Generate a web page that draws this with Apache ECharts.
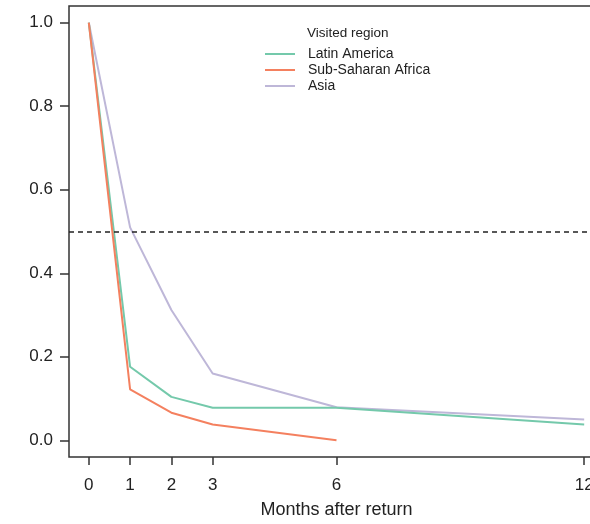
<!DOCTYPE html>
<html>
<head>
<meta charset="utf-8">
<script src="https://cdn.jsdelivr.net/npm/echarts@6/dist/echarts.min.js"></script>
<style>
html,body{margin:0;padding:0;background:#fff;overflow:hidden;}
#chart{width:620px;height:524px;}
</style>
</head>
<body>
<div id="chart"></div>
<script>
const months = [0, 1, 2, 3, 6, 12];
const xTicks = [0, 1, 2, 3, 6, 12];
const yTicks = [0, 0.2, 0.4, 0.6, 0.8, 1.0];
const latinAmerica = [1.0, 0.176, 0.104, 0.078, 0.078, 0.038];
const subSaharanAfrica = [1.0, 0.122, 0.066, 0.038, 0.0];
const asia = [1.0, 0.51, 0.312, 0.16, 0.079, 0.050];
const seriesNames = ['Latin America', 'Sub-Saharan Africa', 'Asia'];
const threshold = 0.5;

const FONT = '"Liberation Sans", Arial, Helvetica, sans-serif';
const pairs = (xs, ys) => ys.map((v, i) => [xs[i], v]);

const chart = echarts.init(document.getElementById('chart'), null, {renderer: 'canvas'});
chart.setOption({
  animation: false,
  backgroundColor: '#fff',
  textStyle: {fontFamily: FONT},
  title: {
    text: 'Visited region',
    left: 307, top: 26, padding: 0,
    textStyle: {fontFamily: FONT, fontSize: 13.5, fontWeight: 'normal', color: '#222'}
  },
  legend: {
    data: seriesNames,
    orient: 'vertical',
    left: 265, top: 47, padding: 0,
    itemWidth: 30, itemHeight: 14, itemGap: 2,
    icon: 'path://M0,0L30,0L30,2L0,2Z',
    symbolKeepAspect: true,
    textStyle: {fontFamily: FONT, fontSize: 14, color: '#222', padding: [0, 0, 0, 8]}
  },
  grid: {
    left: 69, top: 6, width: 535, height: 452,
    show: true, borderColor: '#333', borderWidth: 1.5, backgroundColor: 'transparent'
  },
  xAxis: {
    type: 'value', min: -0.48, max: 12.48,
    name: 'Months after return', nameLocation: 'middle', nameGap: 44,
    nameTextStyle: {fontFamily: FONT, fontSize: 18, color: '#222'},
    axisLine: {show: false, onZero: false},
    splitLine: {show: false},
    axisTick: {show: true, inside: false, length: 8, lineStyle: {color: '#333', width: 1.5}, customValues: xTicks},
    axisLabel: {fontFamily: FONT, fontSize: 17, color: '#222', margin: 20, customValues: xTicks}
  },
  yAxis: {
    type: 'value', min: -0.04, max: 1.04,
    axisLine: {show: false, onZero: false},
    splitLine: {show: false},
    axisTick: {show: true, inside: false, length: 9, lineStyle: {color: '#333', width: 1.5}, customValues: yTicks},
    axisLabel: {fontFamily: FONT, fontSize: 17, color: '#222', margin: 16, customValues: yTicks,
      formatter: v => v.toFixed(1)}
  },
  series: [
    {
      name: seriesNames[0], type: 'line', data: pairs(months, latinAmerica),
      symbol: 'none', color: '#74C9AB', lineStyle: {width: 2}, z: 3,
      markLine: {
        silent: true, symbol: 'none', label: {show: false},
        lineStyle: {color: '#222', type: [5, 4], width: 1.5},
        data: [{yAxis: threshold}]
      }
    },
    {
      name: seriesNames[1], type: 'line', data: pairs(months, subSaharanAfrica),
      symbol: 'none', color: '#F4805F', lineStyle: {width: 2}, z: 4
    },
    {
      name: seriesNames[2], type: 'line', data: pairs(months, asia),
      symbol: 'none', color: '#BEB7D8', lineStyle: {width: 2}, z: 2
    }
  ]
});
</script>
</body>
</html>
